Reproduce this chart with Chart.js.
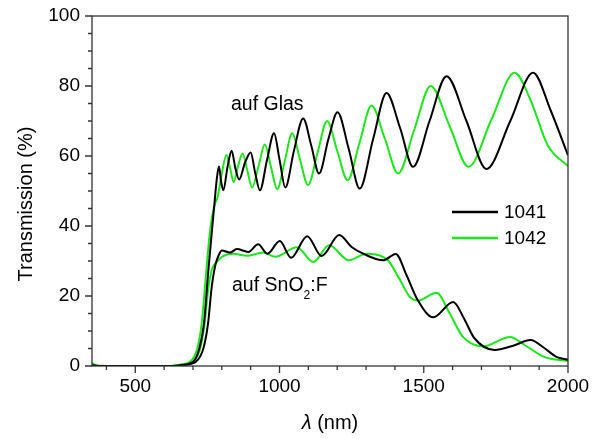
<!DOCTYPE html>
<html>
<head>
<meta charset="utf-8">
<script src="https://cdn.jsdelivr.net/npm/chart.js@4"></script>
<style>
html, body { margin: 0; padding: 0; background: #fff; }
</style>
</head>
<body>
<canvas id="chart" width="592" height="439"></canvas>
<script>
/* =====================
   DATA  (wavelength nm, transmission %)
===================== */

const xTickLabels = [500, 1000, 1500, 2000];
const yTickLabels = [0, 20, 40, 60, 80, 100];

const glass1041 = [
    [350,0.3],[380,0],[620,0],[660,0.3],[700,1.2],[722,5],[738,12],[752,26],[765,38],[774,46],
    [782,53],[790,57],[798,52.5],[805,50.2],[820,57],[834,61.5],[847,56.5],[860,53.3],[880,58],
    [900,61],[916,55],[932,50.2],[957,59],[981,66.5],[1000,59],[1020,51],[1050,61.5],[1082,70.7],
    [1110,63],[1137,55],[1170,65],[1201,72.5],[1240,62],[1278,50.7],[1325,65],[1371,78],[1418,68],
    [1463,56.9],[1520,70],[1579,82.8],[1648,70],[1717,56.3],[1800,70],[1879,83.8],[1940,73],[2000,60.2]
];

const glass1042 = [
    [350,0.9],[365,0.2],[400,0],[620,0],[660,0.5],[690,1.2],[715,5],[730,12],[745,26],[757,37],
    [767,43],[777,46.5],[786,48.5],[800,55],[816,60.3],[829,56.5],[841,52.5],[856,57],[872,60.7],
    [888,56],[905,51],[927,57],[949,63.3],[970,57],[992,50.5],[1018,58.5],[1044,66.5],[1071,59],
    [1099,51.7],[1132,61],[1165,70],[1200,61.5],[1236,53.1],[1278,64],[1319,74.4],[1365,65],
    [1411,55],[1467,67.5],[1524,80],[1590,68.5],[1655,56.9],[1735,70.5],[1815,83.8],[1870,76],
    [1930,63],[2000,57.1]
];

const sno1041 = [
    [350,0],[620,0],[670,0.3],[710,1.2],[736,5],[752,12],[765,22.6],[778,29],[790,31.8],[800,33],
    [828,32.4],[852,33.4],[892,32.6],[926,34.8],[958,32.1],[1001,35.7],[1040,30.9],[1096,37.1],
    [1146,31.4],[1207,37.4],[1250,34],[1290,32.1],[1359,30.2],[1403,32],[1440,26],[1478,19],
    [1533,13.9],[1602,18.3],[1640,13.5],[1675,8],[1745,4.6],[1810,5.8],[1870,7.4],[1920,5],
    [1960,2.6],[2000,1.8]
];

const sno1042 = [
    [350,0],[620,0],[660,0.3],[700,1.2],[725,5],[740,12],[753,22],[765,27.5],[782,29.7],[800,31.2],
    [839,32.1],[886,31.5],[943,32.4],[985,31.2],[1060,33.9],[1117,29.7],[1172,34.5],[1240,30.2],
    [1302,32.1],[1350,31.5],[1378,30],[1415,25],[1452,19.7],[1481,18.7],[1544,20.9],[1590,15],
    [1636,8.3],[1706,5.6],[1799,8.3],[1850,6],[1917,2.6],[2000,1.4]
];

const BLACK = '#000000';
const GREEN = '#1de61d';
const FONT = 'Liberation Sans, Arial, sans-serif';

function toXY(arr) {
    return arr.map(p => ({ x: p[0], y: p[1] }));
}

function lineSet(label, arr, color) {
    return {
        label: label,
        data: toXY(arr),
        borderColor: color,
        borderWidth: 2,
        pointRadius: 0,
        fill: false,
        cubicInterpolationMode: 'monotone'
    };
}

// keep the plot box fixed, no extra room for tick label overflow
function noPad(s) {
    s.paddingTop = 0;
    s.paddingBottom = 0;
    s.paddingLeft = 0;
    s.paddingRight = 0;
}

/* =====================
   FRAME, TICKS, TEXT
===================== */

const decor = {
    id: 'decor',
    afterDraw(chart) {
        const ctx = chart.ctx;
        const a = chart.chartArea;
        const xs = chart.scales.x;
        const ys = chart.scales.y;

        ctx.save();
        ctx.strokeStyle = '#333';
        ctx.lineWidth = 1.3;
        ctx.strokeRect(a.left, a.top, a.right - a.left, a.bottom - a.top);

        ctx.beginPath();
        for (let v = 400; v <= 2000; v += 100) {
            const px = xs.getPixelForValue(v);
            const len = v % 500 === 0 ? 7 : 4;
            ctx.moveTo(px, a.bottom);
            ctx.lineTo(px, a.bottom + len);
        }
        for (let v = 0; v <= 100; v += 5) {
            const py = ys.getPixelForValue(v);
            const len = v % 20 === 0 ? 7 : 4;
            ctx.moveTo(a.left, py);
            ctx.lineTo(a.left - len, py);
        }
        ctx.stroke();

        ctx.fillStyle = '#000';
        ctx.textBaseline = 'alphabetic';

        // axis titles
        ctx.save();
        ctx.translate(26, 204);
        ctx.rotate(-Math.PI / 2);
        ctx.textAlign = 'center';
        ctx.textBaseline = 'middle';
        ctx.font = '20px ' + FONT;
        ctx.fillText('Transmission (%)', 0, 0);
        ctx.restore();

        ctx.textAlign = 'left';
        ctx.font = 'italic 20px ' + FONT;
        const lam = 'λ';
        const rest = ' (nm)';
        const wl = ctx.measureText(lam).width;
        ctx.font = '20px ' + FONT;
        const wr = ctx.measureText(rest).width;
        const x0 = (a.left + a.right) / 2 - (wl + wr) / 2;
        ctx.font = 'italic 20px ' + FONT;
        ctx.fillText(lam, x0, 429);
        ctx.font = '20px ' + FONT;
        ctx.fillText(rest, x0 + wl, 429);

        // annotations
        ctx.font = '19.5px ' + FONT;
        ctx.fillText('auf Glas', 231, 109.5);

        let tx = 232;
        ctx.fillText('auf SnO', tx, 291);
        tx += ctx.measureText('auf SnO').width;
        ctx.font = '12px ' + FONT;
        ctx.fillText('2', tx, 299);
        tx += ctx.measureText('2').width;
        ctx.font = '19.5px ' + FONT;
        ctx.fillText(':F', tx, 291);

        // legend
        const items = [[chart.data.datasets[0], 212], [chart.data.datasets[1], 238]];
        items.forEach(([ds, y]) => {
            ctx.strokeStyle = ds.borderColor;
            ctx.lineWidth = 2.5;
            ctx.beginPath();
            ctx.moveTo(452, y);
            ctx.lineTo(498, y);
            ctx.stroke();
            ctx.font = '19px ' + FONT;
            ctx.textBaseline = 'middle';
            ctx.fillText(ds.label, 504, y + 1);
        });
        ctx.restore();
    }
};

/* =====================
   CREATE CHART
===================== */

const ctx = document.getElementById('chart').getContext('2d');

const chart = new Chart(ctx, {
    type: 'line',
    data: {
        datasets: [
            lineSet('1041', glass1041, BLACK),
            lineSet('1042', glass1042, GREEN),
            lineSet('1041 SnO2', sno1041, BLACK),
            lineSet('1042 SnO2', sno1042, GREEN)
        ]
    },
    options: {
        responsive: false,
        animation: false,
        devicePixelRatio: 1,
        layout: { padding: { left: 0, right: 24, top: 16, bottom: 0 } },
        plugins: {
            legend: { display: false },
            tooltip: { enabled: false }
        },
        scales: {
            x: {
                type: 'linear',
                min: 350,
                max: 2000,
                grid: { display: false, drawTicks: false },
                border: { display: false },
                afterBuildTicks: s => { s.ticks = xTickLabels.map(v => ({ value: v })); },
                afterFit: s => { s.height = 73; noPad(s); },
                ticks: {
                    color: '#000',
                    padding: 9,
                    maxRotation: 0,
                    callback: v => String(v),
                    font: { family: FONT, size: 19 }
                }
            },
            y: {
                min: 0,
                max: 100,
                grid: { display: false, drawTicks: false },
                border: { display: false },
                afterBuildTicks: s => { s.ticks = yTickLabels.map(v => ({ value: v })); },
                afterFit: s => { s.width = 92; noPad(s); },
                ticks: {
                    color: '#000',
                    padding: 12,
                    callback: v => String(v),
                    font: { family: FONT, size: 19 }
                }
            }
        }
    },
    plugins: [decor]
});
</script>
</body>
</html>
